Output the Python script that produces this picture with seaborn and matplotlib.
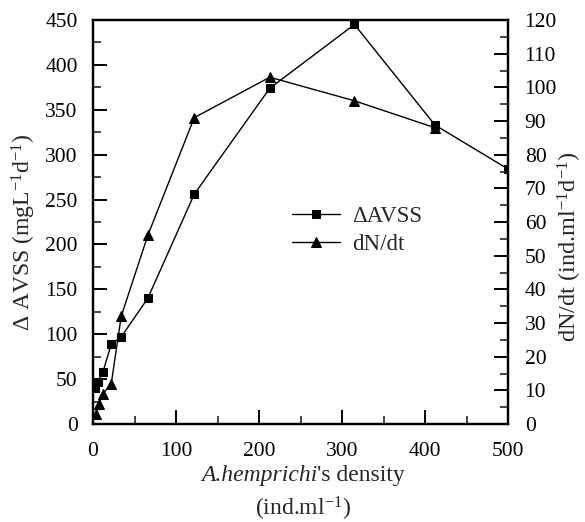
import matplotlib
matplotlib.use("Agg")
import matplotlib.pyplot as plt
import seaborn as sns
import numpy as np
from matplotlib.ticker import MultipleLocator

sns.set_style("ticks")
plt.rcParams['font.family'] = ['Liberation Serif', 'DejaVu Serif']
plt.rcParams['mathtext.fontset'] = 'custom'
plt.rcParams['mathtext.rm'] = 'Liberation Serif'
plt.rcParams['mathtext.it'] = 'Liberation Serif:italic'
plt.rcParams['mathtext.bf'] = 'Liberation Serif:bold'
plt.rcParams['axes.unicode_minus'] = False

# Data
avss_x = [3, 6, 12, 22, 34, 66, 122, 213, 315, 412, 500]
avss_y = [40, 47, 58, 89, 97, 140, 256, 374, 445, 333, 284]
dndt_x = [4, 7, 12, 22, 34, 66, 122, 213, 315, 412]
dndt_y = [3, 6, 9, 12, 32, 56, 91, 103, 96, 88]

W, H = 585, 522
fig = plt.figure(figsize=(W/100, H/100), dpi=100)
ax = fig.add_axes([93/W, 1-424/H, 415/W, 404/H])
ax2 = ax.twinx()

sns.lineplot(x=avss_x, y=avss_y, ax=ax, color='black', marker='s', markersize=6,
             markeredgecolor='black', linewidth=1.0, sort=False, label='ΔAVSS', legend=False)
sns.lineplot(x=dndt_x, y=dndt_y, ax=ax2, color='black', marker='^', markersize=7,
             markeredgecolor='black', linewidth=1.0, sort=False, label='dN/dt', legend=False)

ax.set_xlim(0, 500)
ax.set_ylim(0, 450)
ax2.set_ylim(0, 120)
ax.xaxis.set_major_locator(MultipleLocator(100))
ax.xaxis.set_minor_locator(MultipleLocator(50))
ax.yaxis.set_major_locator(MultipleLocator(50))
ax.yaxis.set_minor_locator(MultipleLocator(25))
ax2.yaxis.set_major_locator(MultipleLocator(10))
ax2.yaxis.set_minor_locator(MultipleLocator(5))

for a in (ax, ax2):
    for s in a.spines.values():
        s.set_linewidth(1.6)
        s.set_color('black')
    a.tick_params(which='major', direction='in', length=10, width=1.4, labelsize=15.5, colors='black')
    a.tick_params(which='minor', direction='in', length=5.5, width=1.2)
ax.tick_params(axis='x', which='both', top=False, pad=13)
ax.tick_params(axis='y', which='both', right=False, pad=11)
ax2.tick_params(axis='y', which='both', pad=12)

ax.set_ylabel('Δ AVSS (mgL$^{\\mathregular{-1}}$d$^{\\mathregular{-1}}$)', fontsize=17)
ax.yaxis.set_label_coords(-0.1325, 0.475)
ax2.set_ylabel('dN/dt (ind.ml$^{\\mathregular{-1}}$d$^{\\mathregular{-1}}$)', fontsize=17.5)
ax2.yaxis.set_label_coords(1.116, 0.44)

# x label: italic species name + regular text, centred as one line
renderer = fig.canvas.get_renderer()
yl1 = 1 - 475/H
t1 = fig.text(0, yl1, 'A.hemprichi', fontsize=17, style='italic', ha='left', va='center')
t2 = fig.text(0, yl1, "'s density", fontsize=17, ha='left', va='center')
w1 = t1.get_window_extent(renderer).width
w2 = t2.get_window_extent(renderer).width
cx = 303
x0 = cx - (w1 + w2) / 2
t1.set_x(x0 / W)
t2.set_x((x0 + w1) / W)
fig.text(303/W, 1-509/H, '(ind.ml$^{\\mathregular{-1}}$)', fontsize=17,
         ha='center', va='center')

h1, l1 = ax.get_legend_handles_labels()
h2, l2 = ax2.get_legend_handles_labels()
ax2.legend(h1 + h2, l1 + l2, loc='upper left', bbox_to_anchor=(0.43, 0.59), frameon=False,
           fontsize=16.5, handlelength=2.1, handletextpad=0.5, labelspacing=0.3)

fig.savefig('out.png', dpi=100)
